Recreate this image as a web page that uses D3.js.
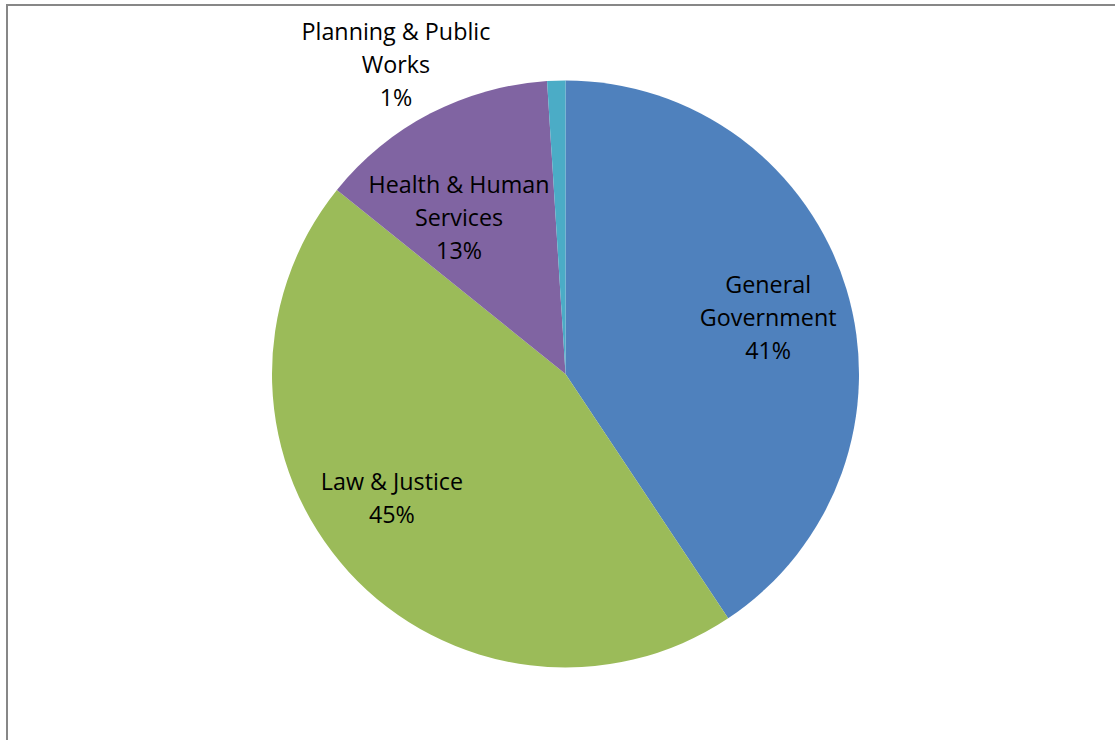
<!DOCTYPE html>
<html>
<head>
<meta charset="utf-8">
<script src="https://cdn.jsdelivr.net/npm/d3@7"></script>
<style>
  body { margin: 0; background: #fff; }
  text { font-family: "Open Sans", Lato, sans-serif; font-variant-ligatures: none; }
</style>
</head>
<body>
<svg id="viz"></svg>
<script>
// slices, clockwise from 12 o'clock
let names = ['General Government', 'Law & Justice', 'Health & Human Services', 'Planning & Public Works'];
let values = [40.65, 45.14, 13.21, 1.0];
let colors = ['#4F81BD', '#9BBB59', '#8064A2', '#4BACC6'];
// how each label wraps, like excel did it
let labelLines = [
  ['General', 'Government'],
  ['Law & Justice'],
  ['Health & Human', 'Services'],
  ['Planning & Public', 'Works']
];

let width = 1115, height = 740;
let cx = 565.5, cy = 374, radius = 293.5;
let lineH = 33;

// where excel dropped the labels: [angle in degrees from top, distance from centre]
let labelAt = [[74.8, 210], [234.2, 214], [325.5, 188], [331.2, 352]];

let svg = d3.select('#viz')
  .attr('width', width)
  .attr('height', height);

// chart area frame (runs off the right/bottom of the picture)
svg.append('rect')
  .attr('x', 7).attr('y', 5)
  .attr('width', width + 20).attr('height', height + 20)
  .attr('fill', 'none')
  .attr('stroke', '#878787')
  .attr('stroke-width', 2);

let total = d3.sum(values);
let data = names.map((n, i) => ({ name: n, value: values[i], color: colors[i], lines: labelLines[i], at: labelAt[i] }));

let pie = d3.pie().value(d => d.value).sort(null);
let arc = d3.arc().innerRadius(0).outerRadius(radius);

let g = svg.append('g').attr('transform', 'translate(' + cx + ',' + cy + ')');

g.selectAll('path.slice')
  .data(pie(data))
  .enter().append('path')
  .classed('slice', true)
  .attr('d', arc)
  .attr('fill', d => d.data.color);

let labels = g.selectAll('text.label')
  .data(pie(data))
  .enter().append('text')
  .classed('label', true)
  .attr('text-anchor', 'middle')
  .attr('font-size', 23.3)
  .attr('fill', '#000')
  .attr('transform', d => {
    let a = d.data.at[0] * Math.PI / 180, r = d.data.at[1];
    return 'translate(' + [r * Math.sin(a), -r * Math.cos(a)] + ')';
  });

labels.each(function(d) {
  let lines = d.data.lines.concat([Math.round(d.data.value / total * 100) + '%']);
  let t = d3.select(this);
  lines.forEach((s, i) => {
    t.append('tspan')
      .attr('x', 0)
      .attr('y', (i - (lines.length - 1) / 2) * lineH + 7)
      .text(s);
  });
});
</script>
</body>
</html>
